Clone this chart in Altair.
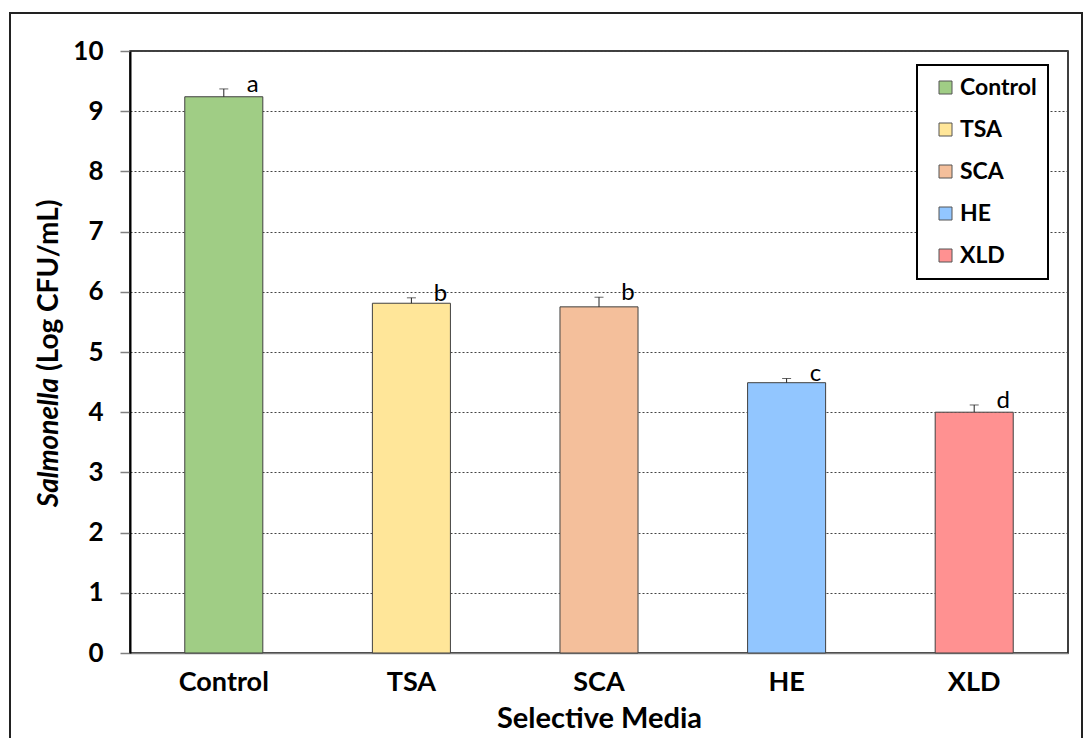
import altair as alt
import pandas as pd

# Salmonella recovery on selective media (mean log CFU/mL with standard error)
media = ["Control", "TSA", "SCA", "HE", "XLD"]
mean_log = [9.24, 5.81, 5.75, 4.49, 4.00]
std_err = [0.13, 0.09, 0.16, 0.07, 0.12]
groups = ["a", "b", "b", "c", "d"]
fills = ["#A0CD85", "#FFE699", "#F4BF9B", "#92C6FF", "#FF9191"]

df = pd.DataFrame({"media": media, "mean": mean_log, "se": std_err, "group": groups})
df["upper"] = df["mean"] + df["se"]

FONT = "Lato"
W, H = 938, 602

x_axis = alt.Axis(
    title="Selective Media", labelAngle=0, ticks=False,
    labelFont=FONT, labelFontSize=27, labelFontWeight="bold", labelColor="black",
    labelPadding=16, titleFont=FONT, titleFontSize=29, titleFontWeight="bold",
    titleColor="black", titlePadding=9, domainColor="#808080", domainWidth=1.5,
)
x_enc = alt.X("media:N", sort=media,
              scale=alt.Scale(paddingInner=0.584, paddingOuter=0.292),
              axis=x_axis)
x_plain = alt.X("media:N", sort=media)

y_axis = alt.Axis(
    title=None, values=list(range(11)), format="d", grid=True, gridColor="#444444",
    gridDash=[2, 2], gridWidth=1, tickColor="#808080", tickSize=10, tickWidth=1.5,
    domainColor="black", domainWidth=2, labelFont=FONT, labelFontSize=26,
    labelFontWeight="bold", labelColor="black", labelPadding=17,
)

bars = alt.Chart(df).mark_bar(stroke="#404040", strokeWidth=1).encode(
    x=x_enc,
    y=alt.Y("mean:Q", scale=alt.Scale(domain=[0, 10], nice=False), axis=y_axis),
    color=alt.Color(
        "media:N", sort=media,
        scale=alt.Scale(domain=media, range=fills),
        legend=alt.Legend(
            orient="none", legendX=787, legendY=14, title=None,
            symbolType="square", symbolSize=169, symbolStrokeColor="#555555",
            symbolStrokeWidth=1, symbolOpacity=1, symbolOffset=6,
            labelFont=FONT, labelFontSize=23,
            labelFontWeight="bold", labelColor="black", labelOffset=3,
            rowPadding=18, padding=11, strokeColor="black", fillColor="white",
        ),
    ),
)

err_line = alt.Chart(df).mark_rule(color="#222222", strokeWidth=1).encode(
    x=x_plain, y="mean:Q", y2="upper:Q"
)
err_cap = alt.Chart(df).mark_tick(
    orient="horizontal", size=9, thickness=1, color="#222222"
).encode(x=x_plain, y="upper:Q")

letters = alt.Chart(df).mark_text(
    dx=29, dy=3, baseline="alphabetic", align="center",
    font=FONT, fontSize=24, color="black",
).encode(x=x_plain, y="upper:Q", text="group:N")

# Y title: italic genus name followed by the unit
y_title_a = alt.Chart(pd.DataFrame({"t": ["Salmonella"]})).mark_text(
    angle=270, align="right", baseline="middle", font=FONT, fontSize=28,
    fontWeight="bold", fontStyle="italic", color="black",
).encode(text="t:N", x=alt.value(-80), y=alt.value(327))
y_title_b = alt.Chart(pd.DataFrame({"t": ["(Log CFU/mL)"]})).mark_text(
    angle=270, align="left", baseline="middle", font=FONT, fontSize=28,
    fontWeight="bold", color="black",
).encode(text="t:N", x=alt.value(-80), y=alt.value(320))

# Outer border around the whole figure
frame = alt.Chart(pd.DataFrame({"k": [0]})).mark_rect(
    fillOpacity=0, stroke="#222222", strokeWidth=2
).encode(x=alt.value(-120), x2=alt.value(952), y=alt.value(-38), y2=alt.value(760))

chart = alt.layer(
    bars, err_line, err_cap, letters, y_title_a, y_title_b, frame
).properties(
    width=W, height=H,
    padding={"left": 130, "top": 51, "right": 17, "bottom": 85},
    autosize=alt.AutoSizeParams(type="none"),
    background="white",
).configure_view(
    stroke="black", strokeWidth=1.5
).configure_legend(
    strokeWidth=2
)

chart.save("out.html", embed_options={"renderer": "svg", "actions": False})
